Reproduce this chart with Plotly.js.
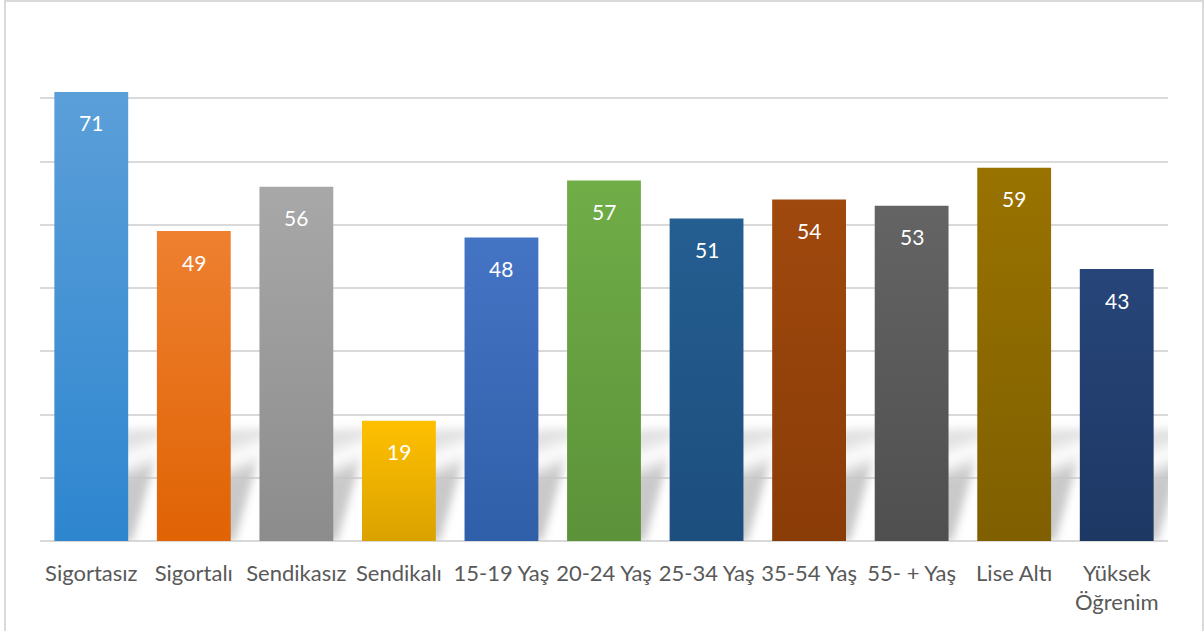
<!DOCTYPE html>
<html>
<head>
<meta charset="utf-8">
<script src="https://cdn.plot.ly/plotly-3.0.1.min.js"></script>
<style>
  html, body { margin: 0; padding: 0; background: #fff; }
  #chart { width: 1204px; height: 631px; position: absolute; left: 0; top: 0; }
  #frame { position: absolute; left: 4px; top: 0px; width: 1196px; height: 640px; border: 2px solid #d9d9d9; pointer-events: none; }
</style>
</head>
<body>
<div id="chart"></div>
<div id="frame"></div>
<script>
const categories = ["Sigortasız", "Sigortalı", "Sendikasız", "Sendikalı", "15-19 Yaş", "20-24 Yaş", "25-34 Yaş", "35-54 Yaş", "55- + Yaş", "Lise Altı", "Yüksek<br>Öğrenim"];
const values = [71, 49, 56, 19, 48, 57, 51, 54, 53, 59, 43];
const topColors = ["#5B9FD9", "#EE8030", "#A8A8A8", "#FFC000", "#4474C4", "#70AD47", "#255E91", "#A0490E", "#646464", "#997300", "#274579"];
const bottomColors = ["#2E86CF", "#E06304", "#8C8C8C", "#DAA200", "#305FA9", "#5C923A", "#1C4E7E", "#8A3C07", "#4F4F4F", "#7F5F00", "#1E3864"];

const FONT = "Lato, Calibri, 'Open Sans', sans-serif";

const trace = {
  type: "bar",
  x: categories,
  y: values,
  marker: { color: topColors, line: { width: 0 } },
  hoverinfo: "none"
};

const annotations = categories.map((c, i) => ({
  x: c, y: values[i], xref: "x", yref: "y",
  text: String(values[i]),
  showarrow: false,
  yshift: -31,
  font: { family: FONT, size: 21, color: "#ffffff" }
}));

const layout = {
  width: 1204, height: 631,
  margin: { l: 40, r: 36, t: 35, b: 90 },
  paper_bgcolor: "#ffffff",
  plot_bgcolor: "#ffffff",
  bargap: 0.28,
  showlegend: false,
  xaxis: {
    type: "category",
    showgrid: false, zeroline: false,
    showline: false,
    ticks: "", ticklabelstandoff: 17,
    tickfont: { family: FONT, size: 22, color: "#595959" }
  },
  yaxis: {
    range: [0, 80], dtick: 10, tick0: 0,
    showgrid: true, gridcolor: "#d9d9d9", gridwidth: 2,
    zeroline: true, zerolinecolor: "#d9d9d9", zerolinewidth: 2,
    showticklabels: false, ticks: ""
  },
  annotations: annotations
};

Plotly.newPlot("chart", [trace], layout, { staticPlot: true, displayModeBar: false }).then(function (gd) {
  const svg = gd.querySelector("svg.main-svg");
  const ns = "http://www.w3.org/2000/svg";
  let defs = svg.querySelector("defs");
  if (!defs) { defs = document.createElementNS(ns, "defs"); svg.insertBefore(defs, svg.firstChild); }

  function el(name, attrs) {
    const e = document.createElementNS(ns, name);
    for (const k in attrs) e.setAttribute(k, attrs[k]);
    return e;
  }

  // blur filter + fading gradient for floor shadows
  const filt = el("filter", { id: "shBlur", x: "-30%", y: "-30%", width: "160%", height: "160%" });
  filt.appendChild(el("feGaussianBlur", { stdDeviation: "4" }));
  defs.appendChild(filt);
  const sg = el("linearGradient", { id: "shGrad", x1: "0", y1: "0", x2: "0.35", y2: "1" });
  sg.appendChild(el("stop", { offset: "0", "stop-color": "#c4c4c4", "stop-opacity": "0" }));
  sg.appendChild(el("stop", { offset: "0.3", "stop-color": "#c4c4c4", "stop-opacity": "0.55" }));
  sg.appendChild(el("stop", { offset: "0.45", "stop-color": "#ffffff", "stop-opacity": "0.6" }));
  sg.appendChild(el("stop", { offset: "0.6", "stop-color": "#c4c4c4", "stop-opacity": "0.9" }));
  sg.appendChild(el("stop", { offset: "1", "stop-color": "#c8c8c8", "stop-opacity": "1" }));
  defs.appendChild(sg);

  const paths = gd.querySelectorAll(".barlayer .point path");
  const shadowGroup = el("g", { "class": "floor-shadows" });
  paths.forEach(function (p, i) {
    const g = el("linearGradient", { id: "barGrad" + i, x1: "0", y1: "0", x2: "0", y2: "1" });
    g.appendChild(el("stop", { offset: "0", "stop-color": topColors[i] }));
    g.appendChild(el("stop", { offset: "1", "stop-color": bottomColors[i] }));
    defs.appendChild(g);
    p.style.fill = "url(#barGrad" + i + ")";

    const bb = p.getBBox();
    const base = bb.y + bb.height;
    const h = Math.min(bb.height, 112);
    const dx = 36;
    const pts = [
      [bb.x + 4, base],
      [bb.x + bb.width + 4, base],
      [bb.x + bb.width + dx, base - h],
      [bb.x + dx, base - h]
    ].map(q => q.join(",")).join(" ");
    shadowGroup.appendChild(el("polygon", { points: pts, fill: "url(#shGrad)", filter: "url(#shBlur)" }));
  });
  const barlayer = gd.querySelector(".barlayer");
  barlayer.insertBefore(shadowGroup, barlayer.firstChild);
});
</script>
</body>
</html>
